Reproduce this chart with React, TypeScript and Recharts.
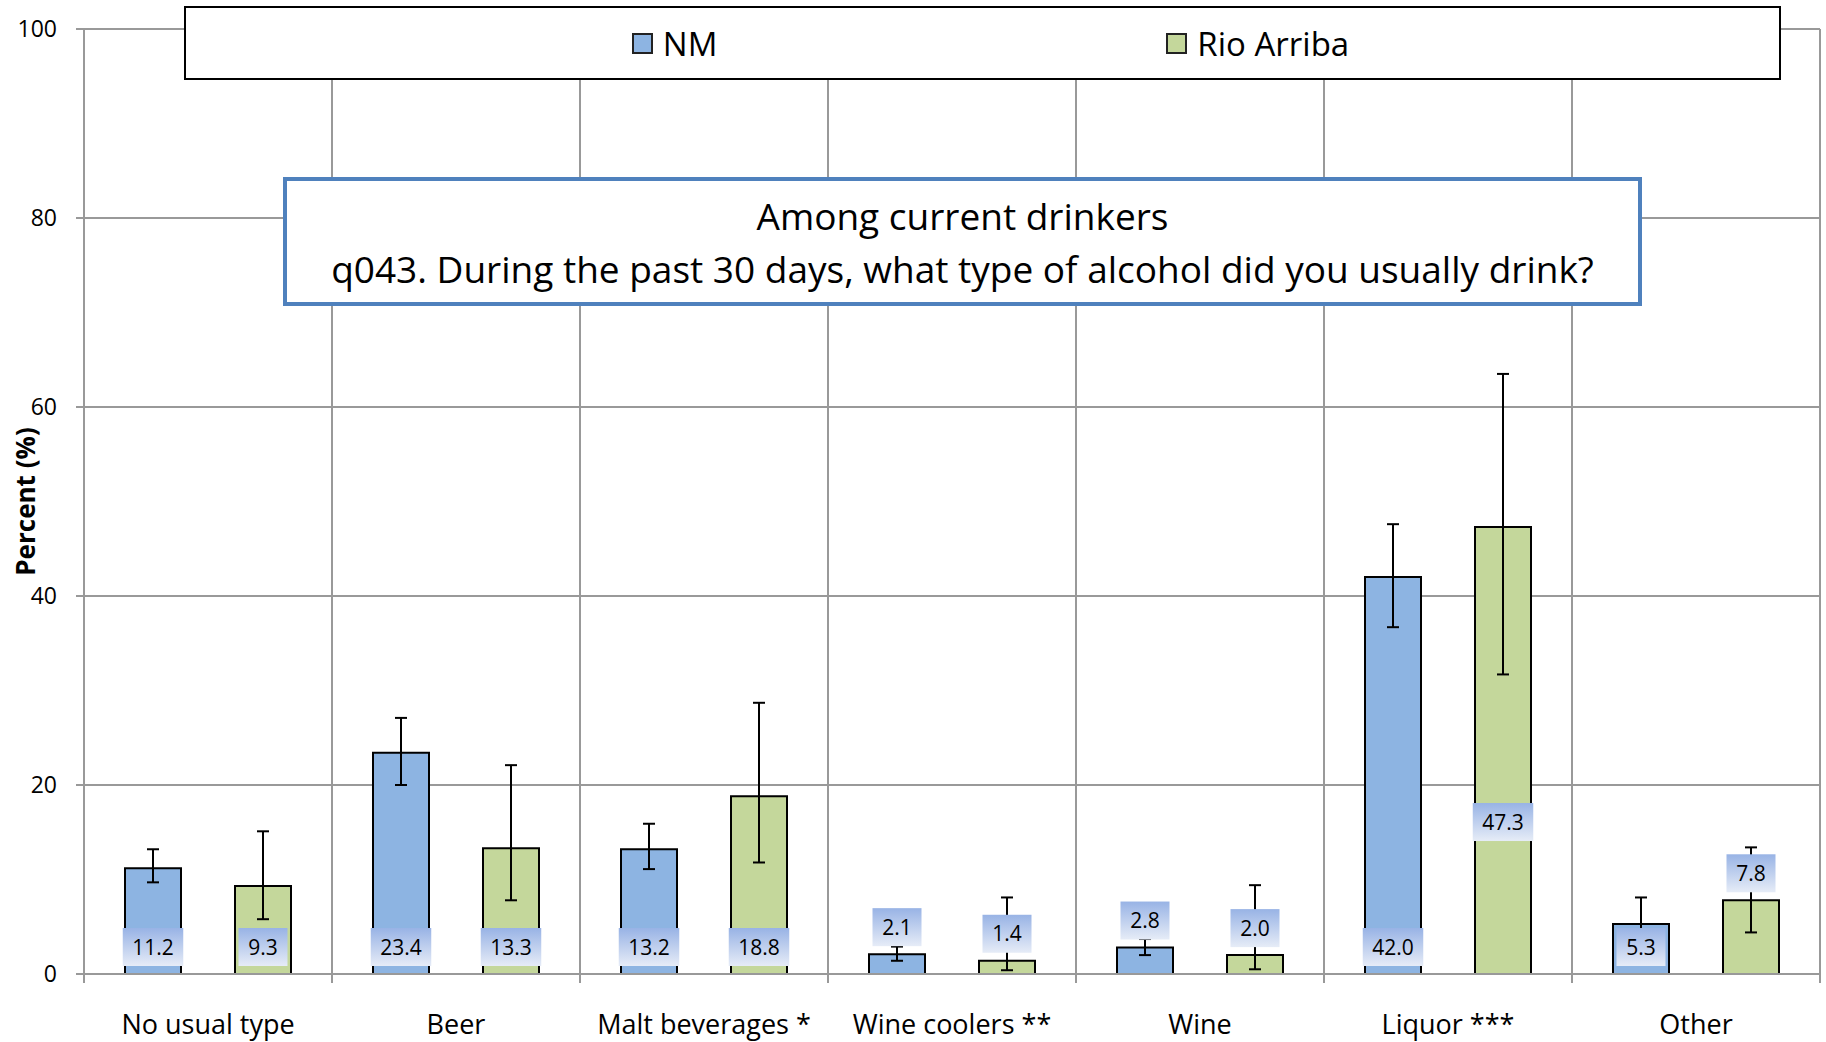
import React from 'react';
import { BarChart, Bar, XAxis, YAxis, CartesianGrid, Legend, ErrorBar, LabelList } from 'recharts';

const categories = ['No usual type', 'Beer', 'Malt beverages *', 'Wine coolers **', 'Wine', 'Liquor ***', 'Other'];
const nmValues = [11.2, 23.4, 13.2, 2.1, 2.8, 42.0, 5.3];
const nmLow = [9.7, 20.0, 11.1, 1.4, 2.0, 36.7, 3.4];
const nmHigh = [13.2, 27.1, 15.9, 2.9, 3.7, 47.6, 8.1];
const raValues = [9.3, 13.3, 18.8, 1.4, 2.0, 47.3, 7.8];
const raLow = [5.8, 7.8, 11.8, 0.4, 0.5, 31.7, 4.4];
const raHigh = [15.1, 22.1, 28.7, 8.1, 9.4, 63.5, 13.4];
const yTicks = [0, 20, 40, 60, 80, 100];

// where each data label sits: inside at the base, above the bar end, or lower third
const nmLabelPos = ['base', 'base', 'base', 'end', 'end', 'base', 'base'];
const raLabelPos = ['base', 'base', 'base', 'end', 'end', 'low', 'end'];

const W = 1826;
const H = 1042;
const MARGIN = { top: 29, right: 6, bottom: 0, left: 0 };
const Y_W = 84;
const X_H = 68;
const PLOT_W = W - MARGIN.left - MARGIN.right - Y_W;
const AXIS_Y = H - MARGIN.bottom - X_H;
const FONT = '"Open Sans", Lato, sans-serif';

const data = categories.map((name, i) => ({
  name,
  nm: nmValues[i],
  ra: raValues[i],
  nmErr: [nmValues[i] - nmLow[i], nmHigh[i] - nmValues[i]],
  raErr: [raValues[i] - raLow[i], raHigh[i] - raValues[i]],
}));

const labelWidth = (t: string) => {
  const digits = t.replace('.', '').length;
  return 20 + digits * 11.5 + 6;
};

const makeLabel = (pos: string[]) => (props: any) => {
  const { x, y, width, height, value, index } = props;
  const txt = Number(value).toFixed(1);
  const w = labelWidth(txt);
  const h = 38;
  const cx = Number(x) + Number(width) / 2;
  const p = pos[index];
  let bottom = Number(y) + Number(height) - 8;
  if (p === 'end') bottom = Number(y) - 8;
  if (p === 'low') bottom = Number(y) + Number(height) * 0.66 + h / 2;
  return (
    <g>
      <rect x={cx - w / 2} y={bottom - h} width={w} height={h} fill="url(#lblGrad)" />
      <text x={cx} y={bottom - h / 2 + 7.5} textAnchor="middle" fontSize={21} fontFamily={FONT} fill="#000">
        {txt}
      </text>
    </g>
  );
};

const XTick = (props: any) => {
  const { x, payload, index } = props;
  const band = PLOT_W / categories.length;
  const last = index === categories.length - 1;
  return (
    <g>
      <line x1={x - band / 2} x2={x - band / 2} y1={AXIS_Y} y2={AXIS_Y + 9} stroke="#999" strokeWidth={2} />
      {last && <line x1={x + band / 2} x2={x + band / 2} y1={AXIS_Y} y2={AXIS_Y + 9} stroke="#999" strokeWidth={2} />}
      <text x={x} y={AXIS_Y + 60} textAnchor="middle" fontSize={27} fontFamily={FONT} fill="#000">
        {payload.value}
      </text>
    </g>
  );
};

const LegendBox = () => (
  <div
    style={{
      boxSizing: 'border-box',
      width: 1597,
      height: 74,
      border: '2px solid #000',
      background: '#fff',
      display: 'flex',
      justifyContent: 'center',
      alignItems: 'center',
      gap: 449,
      fontFamily: FONT,
      fontSize: 33,
      paddingLeft: 16,
    }}
  >
    {[
      { label: 'NM', color: '#8DB4E2' },
      { label: 'Rio Arriba', color: '#C4D79B' },
    ].map((it) => (
      <div key={it.label} style={{ display: 'flex', alignItems: 'center', gap: 10 }}>
        <span style={{ width: 17, height: 17, background: it.color, border: '2px solid #222', display: 'inline-block' }} />
        <span>{it.label}</span>
      </div>
    ))}
  </div>
);

export default function App() {
  return (
    <div style={{ position: 'relative', width: W, height: H, background: '#fff' }}>
      <style>{'body{margin:0}'}</style>
      <BarChart width={W} height={H} data={data} margin={MARGIN} barSize={56} barGap={54}>
        <defs>
          <linearGradient id="lblGrad" x1="0" y1="0" x2="0" y2="1">
            <stop offset="0%" stopColor="#98B3E5" />
            <stop offset="100%" stopColor="#E6ECF7" />
          </linearGradient>
        </defs>
        <CartesianGrid
          stroke="#999"
          strokeWidth={2}
          verticalCoordinatesGenerator={({ offset }: any) =>
            categories.map((_, i) => offset.left + ((i + 1) * offset.width) / categories.length)
          }
        />
        <XAxis
          dataKey="name"
          height={X_H}
          tickLine={false}
          axisLine={{ stroke: '#999', strokeWidth: 2 }}
          tick={<XTick />}
          interval={0}
        />
        <YAxis
          width={Y_W}
          domain={[0, 100]}
          ticks={yTicks}
          tickSize={8}
          tickMargin={19}
          tickLine={{ stroke: '#999', strokeWidth: 2 }}
          axisLine={{ stroke: '#999', strokeWidth: 2 }}
          tick={{ fill: '#000', fontSize: 23, fontFamily: FONT }}
          label={{
            value: 'Percent (%)',
            angle: -90,
            position: 'insideLeft',
            offset: 26,
            style: { textAnchor: 'middle', fontSize: 26, fontWeight: 'bold', fontFamily: FONT, fill: '#000' },
          }}
        />
        <Legend
          verticalAlign="middle"
          align="center"
          layout="horizontal"
          wrapperStyle={{ top: 6, left: 184, width: 1597, height: 74 }}
          content={() => <LegendBox />}
        />
        <Bar dataKey="nm" name="NM" fill="#8DB4E2" stroke="#000" strokeWidth={2} isAnimationActive={false}>
          <ErrorBar dataKey="nmErr" direction="y" width={6} stroke="#000" strokeWidth={2} />
          <LabelList dataKey="nm" content={makeLabel(nmLabelPos)} />
        </Bar>
        <Bar dataKey="ra" name="Rio Arriba" fill="#C4D79B" stroke="#000" strokeWidth={2} isAnimationActive={false}>
          <ErrorBar dataKey="raErr" direction="y" width={6} stroke="#000" strokeWidth={2} />
          <LabelList dataKey="ra" content={makeLabel(raLabelPos)} />
        </Bar>
      </BarChart>
      <div
        style={{
          position: 'absolute',
          left: 283,
          top: 177,
          width: 1359,
          height: 129,
          boxSizing: 'border-box',
          border: '4px solid #4F81BD',
          background: '#fff',
          display: 'flex',
          flexDirection: 'column',
          justifyContent: 'center',
          alignItems: 'center',
          fontFamily: FONT,
          fontSize: 37,
          lineHeight: '53px',
          color: '#000',
        }}
      >
        <div>Among current drinkers</div>
        <div>q043. During the past 30 days, what type of alcohol did you usually drink?</div>
      </div>
    </div>
  );
}
